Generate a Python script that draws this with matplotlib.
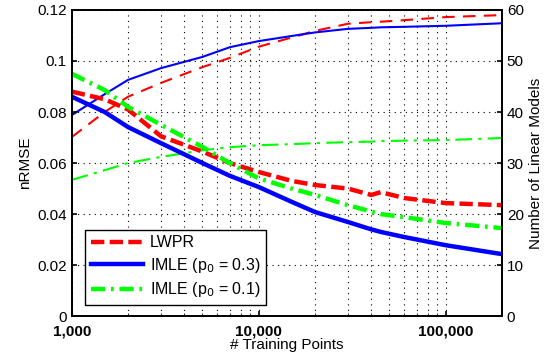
import matplotlib
matplotlib.use("Agg")
import matplotlib.pyplot as plt
from matplotlib.ticker import FixedLocator, NullFormatter, LogLocator

# training points (x)
n_pts = [1000, 1500, 2000, 3000, 5000, 7000, 10000, 15000, 20000, 30000, 40000, 45000, 60000, 100000, 200000]

# nRMSE (left axis)
err_lwpr = [0.088, 0.085, 0.081, 0.0705, 0.0645, 0.060, 0.0565, 0.053, 0.0514, 0.050, 0.0475, 0.0486, 0.0463, 0.0443, 0.0435]
err_imle3 = [0.086, 0.080, 0.0741, 0.0678, 0.060, 0.055, 0.0506, 0.0448, 0.0408, 0.0369, 0.034, 0.033, 0.031, 0.0278, 0.0243]
err_imle1 = [0.095, 0.0886, 0.082, 0.075, 0.0663, 0.060, 0.054, 0.050, 0.0475, 0.0435, 0.041, 0.040, 0.0388, 0.0365, 0.0345]

# number of linear models (right axis)
mod_lwpr = [35.1, 40.0, 43.0, 45.7, 48.8, 50.6, 52.8, 54.6, 55.9, 57.3, 57.6, 57.7, 58.0, 58.6, 59.0]
mod_imle3 = [39.4, 43.5, 46.3, 48.6, 50.8, 52.7, 53.9, 54.9, 55.6, 56.3, 56.5, 56.6, 56.7, 56.9, 57.4]
mod_imle1 = [26.7, 28.6, 30.0, 31.2, 32.5, 33.1, 33.5, 33.7, 33.9, 34.1, 34.2, 34.3, 34.4, 34.5, 34.9]

x_ticks = [1000, 10000, 100000]
x_labels = ["1,000", "10,000", "100,000"]

RED, BLUE, GREEN = "#ff0000", "#0000ff", "#00ff00"

plt.rcParams['font.family'] = ['Liberation Sans', 'DejaVu Sans']
fig = plt.figure(figsize=(5.48, 3.56), dpi=100)
ax = fig.add_axes([0.131, 0.112, 0.785, 0.86])
ax2 = ax.twinx()

# thin lines: model counts
ax2.plot(n_pts, mod_lwpr, color=RED, lw=1.5, ls=(0, (6, 4)))
ax2.plot(n_pts, mod_imle3, color=BLUE, lw=1.5, ls='-')
ax2.plot(n_pts, mod_imle1, color=GREEN, lw=1.5, ls=(0, (8, 3, 1.5, 3)))

# thick lines: nRMSE
ax.set_zorder(ax2.get_zorder() + 1)
ax.patch.set_visible(False)
l1, = ax.plot(n_pts, err_lwpr, color=RED, lw=3.2, ls=(0, (3, 1.2)), label="LWPR")
l2, = ax.plot(n_pts, err_imle3, color=BLUE, lw=3.2, ls='-', label="IMLE (p$_0$ = 0.3)")
l3, = ax.plot(n_pts, err_imle1, color=GREEN, lw=3.2, ls=(0, (3.2, 1.3, 0.6, 1.3)), label="IMLE (p$_0$ = 0.1)")

ax.set_xscale('log')
ax.set_xlim(1000, 200000)
ax.set_ylim(0, 0.12)
ax.set_yticks([0, 0.02, 0.04, 0.06, 0.08, 0.1, 0.12])
ax.set_yticklabels(["0", "0.02", "0.04", "0.06", "0.08", "0.1", "0.12"])
ax.xaxis.set_major_locator(FixedLocator(x_ticks))
ax.set_xticklabels(x_labels, fontweight='bold')
ax.xaxis.set_minor_locator(LogLocator(base=10, subs=range(2, 10)))
ax.xaxis.set_minor_formatter(NullFormatter())
ax2.set_ylim(0, 60)
ax2.set_yticks([0, 10, 20, 30, 40, 50, 60])

ax.grid(True, which='major', color='black', ls=(0, (1, 4)), lw=0.8)
ax.grid(True, which='minor', axis='x', color='black', ls=(0, (1, 4)), lw=0.8)
for a in (ax, ax2):
    a.tick_params(direction='in', labelsize=11, width=1.2)
    a.tick_params(which='minor', direction='in', length=2)
    for s in a.spines.values():
        s.set_linewidth(1.3)
ax.tick_params(axis='x', pad=6)

ax.set_xlabel("# Training Points", fontsize=11, labelpad=0)
ax.set_ylabel("nRMSE", fontsize=11)
ax2.set_ylabel("Number of Linear Models", fontsize=11)

leg = ax.legend(handles=[l1, l2, l3], loc='lower left', bbox_to_anchor=(0.012, 0.01),
                fontsize=11.5, fancybox=False, edgecolor='black', framealpha=1,
                handlelength=3.3, handletextpad=0.4, borderpad=0.35, labelspacing=0.35)
leg.get_frame().set_linewidth(1.0)

fig.savefig("out.png", dpi=100)
